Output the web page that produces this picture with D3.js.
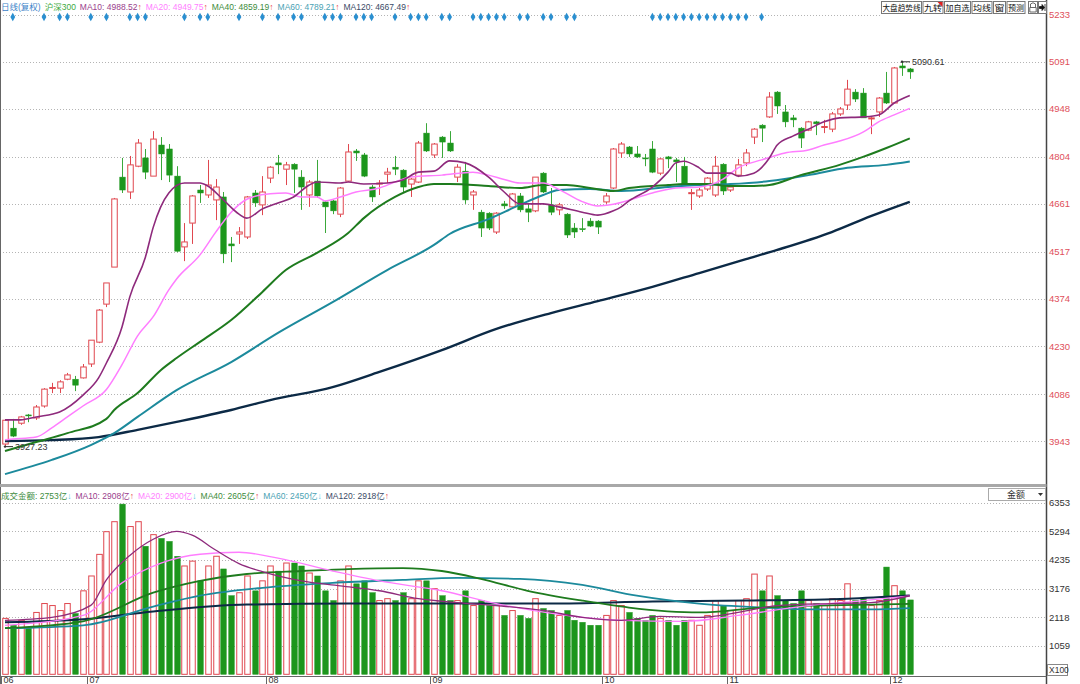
<!DOCTYPE html>
<html>
<head>
<meta charset="utf-8">
<script src="https://cdn.jsdelivr.net/npm/d3@7"></script>
<style>
  body { margin: 0; background: #fff; }
  svg { display: block; }
  text { font-family: "Liberation Sans", "Noto Sans CJK SC", sans-serif; }
  .cjk { font-family: "Noto Sans CJK SC", sans-serif; }
</style>
</head>
<body>
<div id="chart"></div>
<script>
// daily candles, index 0 = first visible day
const openP  = [3935,3983,3998,4023,4014,4050,4104,4104,4131,4131,4135,4177,4243,4358,4470,4742,4697,4775,4800,4745,
  4839,4827,4745,4531,4603,4703,4688,4673,4682,4540,4570,4561,4694,4658,4739,4785,4766,4781,4742,4688,
  4730,4667,4670,4630,4730,4821,4809,4712,4721,4751,4772,4763,4721,4727,4875,4809,4863,4845,4742,4760,
  4688,4636,4633,4576,4661,4652,4685,4646,4640,4754,4658,4643,4630,4588,4586,4609,4609,4667,4709,4815,
  4833,4812,4800,4827,4754,4803,4794,4775,4692,4685,4706,4688,4781,4703,4748,4785,4863,4899,4924,4999,
  4939,4921,4890,4884,4909,4892,4887,4933,4960,4999,4996,4918,4939,4996,4966,5078,5069];
const highP  = [4010,4011,4020,4026,4053,4104,4120,4128,4150,4141,4177,4249,4343,4422,4679,4800,4806,4857,4827,4881,
  4863,4842,4775,4603,4688,4718,4794,4736,4697,4561,4591,4685,4703,4745,4775,4809,4788,4784,4763,4733,
  4794,4670,4673,4712,4842,4827,4815,4718,4733,4770,4806,4766,4739,4851,4905,4845,4866,4881,4781,4788,
  4703,4643,4636,4636,4670,4694,4694,4664,4742,4757,4709,4664,4633,4603,4618,4618,4612,4694,4830,4848,
  4836,4836,4812,4851,4800,4806,4800,4803,4706,4709,4742,4806,4784,4718,4797,4827,4890,4902,4999,5002,
  4960,4930,4893,4912,4912,4915,4939,4954,5036,5008,5011,4924,4984,5060,5075,5090.61,5072];
const lowP   = [3927.23,3956,3993,4001,4008,4045,4089,4089,4128,4095,4133,4168,4240,4349,4470,4694,4676,4772,4736,4745,
  4733,4727,4515,4488,4540,4664,4679,4612,4482,4485,4540,4555,4652,4627,4724,4751,4718,4694,4643,4652,
  4679,4573,4630,4621,4727,4791,4742,4667,4688,4724,4748,4694,4682,4724,4818,4800,4800,4818,4727,4661,
  4643,4561,4582,4570,4646,4649,4636,4606,4636,4694,4627,4627,4558,4558,4576,4591,4570,4661,4706,4800,
  4803,4800,4775,4754,4748,4769,4727,4718,4643,4679,4700,4682,4688,4697,4742,4775,4842,4848,4921,4933,
  4893,4893,4830,4881,4869,4875,4878,4927,4945,4969,4921,4872,4924,4963,4966,5048,5039];
const closeP = [4007,3959,4017,4021,4047,4101,4106,4123,4144,4113,4168,4249,4340,4422,4676,4703,4779,4845,4757,4857,
  4812,4748,4518,4546,4685,4694,4718,4712,4510,4534,4576,4682,4664,4697,4772,4779,4779,4766,4712,4727,
  4685,4652,4640,4709,4818,4815,4745,4682,4724,4757,4766,4712,4736,4845,4821,4842,4848,4821,4772,4673,
  4697,4588,4588,4633,4655,4691,4643,4636,4742,4697,4636,4658,4567,4576,4583,4594,4591,4685,4827,4842,
  4812,4803,4797,4757,4797,4797,4788,4721,4695,4703,4739,4775,4700,4712,4779,4815,4887,4890,4984,4957,
  4909,4915,4860,4909,4903,4895,4933,4948,5008,4978,4921,4921,4981,4966,5072,5072,5060];

// turnover, 亿
const volume = [2070,1815,2000,1700,2290,2620,2545,2360,2620,2250,3090,3640,4440,5280,5650,6300,5470,5650,4740,5170,
  5030,4920,4370,4010,4190,3460,4010,4370,3900,2910,3020,3640,3090,3460,4010,3820,4120,4120,4010,3750,
  3640,3090,2730,3460,4010,3350,3460,3020,2730,2800,2730,3020,2800,3460,3460,3170,2910,2730,2730,3090,
  2545,2730,2545,2545,2180,2360,2180,2070,2800,2435,2360,2180,2360,2000,1925,1815,1815,2180,2730,2545,
  2290,2070,2000,2180,2070,2000,1815,2000,2000,1815,2180,2730,2545,2360,2730,2800,3710,3090,3640,2910,
  2730,2620,3090,2730,2620,2545,2800,2730,3350,2730,2800,2545,2730,3970,3280,3090,2753];

// moving averages: [day index, value]
const ma10 = [[0,4008],[2,4008],[4,4017],[7,4032],[10,4083],[12,4135],[13,4180],[15,4289],[16,4380],[18,4500],[19,4590],
  [21,4694],[23,4724],[25,4724],[26,4715],[28,4673],[30,4630],[31,4618],[33,4646],[35,4664],[37,4682],[39,4718],[40,4727],
  [43,4724],[44,4727],[46,4721],[49,4724],[51,4733],[53,4757],[55,4760],[57,4791],[59,4785],[62,4742],[64,4697],[66,4661],
  [69,4661],[71,4652],[74,4636],[76,4627],[78,4640],[79,4652],[80,4670],[83,4712],[85,4757],[86,4785],[87,4790],[89,4770],
  [90,4754],[93,4754],[94,4745],[96,4754],[98,4800],[99,4839],[101,4866],[103,4887],[105,4909],[107,4921],[110,4924],
  [112,4930],[114,4966],[116,4988.52]];
const ma20 = [[0,3948],[1,3950],[4,3956],[6,3984],[8,4017],[10,4050],[13,4100],[15,4175],[17,4262],[19,4320],[21,4401],
  [22,4434],[25,4507],[27,4575],[29,4636],[31,4675],[34,4692],[36,4694],[38,4682],[40,4682],[41,4670],[43,4682],[45,4697],
  [48,4709],[50,4727],[52,4742],[56,4748],[60,4757],[62,4748],[64,4735],[66,4724],[69,4724],[71,4705],[74,4668],[76,4655],
  [78,4660],[83,4694],[86,4709],[89,4712],[92,4735],[94,4770],[97,4794],[100,4815],[103,4824],[105,4839],[107,4851],
  [110,4878],[111,4893],[112,4909],[114,4930],[116,4949.75]];
const ma40 = [[0,3914],[4,3941],[8,3968],[13,4011],[14,4038],[17,4089],[20,4159],[22,4195],[25,4244],[29,4310],[33,4395],
  [36,4461],[40,4513],[44,4573],[46,4618],[50,4682],[53,4712],[55,4721],[57,4721],[62,4715],[66,4709],[69,4718],[72,4718],
  [75,4709],[78,4700],[80,4709],[85,4718],[87,4721],[90,4721],[93,4715],[96,4715],[98,4718],[102,4748],[107,4779],
  [110,4803],[113,4830],[116,4859.19]];
const ma60 = [[0,3844],[6,3887],[11,3932],[14,3968],[17,4017],[22,4098],[29,4183],[35,4271],[42,4364],[49,4461],[55,4537],
  [57,4570],[62,4615],[66,4658],[69,4688],[71,4703],[75,4706],[79,4700],[85,4712],[89,4718],[93,4721],[98,4730],[103,4748],
  [108,4770],[113,4779],[116,4789.21]];
const ma120 = [[0,3944],[6,3947],[12,3956],[17,3978],[22,4002],[29,4038],[34,4068],[42,4107],[48,4153],[56,4219],[63,4283],
  [70,4331],[76,4367],[83,4410],[89,4452],[95,4494],[99,4522],[106,4576],[111,4624],[116,4667.49]];

const vma10 = [[0,1998],[6,2107],[11,2550],[13,3500],[16,4400],[19,5000],[22,5290],[24,5150],[27,4600],[30,4100],[33,3800],
  [38,3458],[43,3276],[48,3093],[53,2801],[58,2655],[63,2545],[69,2363],[74,2107],[79,1998],[84,2144],[89,2107],[94,2290],
  [99,2545],[106,2618],[111,2655],[116,2908]];
const vma20 = [[0,1815],[10,2180],[15,3385],[20,4116],[25,4444],[30,4518],[35,4298],[42,3824],[48,3458],[56,3093],[63,2618],
  [71,2217],[79,1998],[87,1961],[94,2180],[102,2509],[110,2728],[116,2900]];
const vma40 = [[0,1706],[10,1961],[19,3020],[25,3458],[31,3714],[38,3824],[44,3897],[51,3933],[56,3824],[61,3532],[67,3093],
  [74,2728],[80,2472],[89,2290],[97,2472],[104,2545],[111,2582],[116,2605]];
const vma60 = [[0,1706],[10,1815],[19,2509],[25,2911],[33,3203],[42,3385],[51,3495],[58,3568],[66,3532],[74,3312],[81,2911],
  [89,2618],[97,2472],[104,2400],[111,2400],[116,2450]];
const vma120 = [[0,1925],[10,2034],[19,2326],[31,2582],[44,2618],[57,2618],[70,2618],[83,2691],[95,2728],[108,2801],[116,2918]];

const priceTicks = [5233,5091,4948,4804,4661,4517,4374,4230,4086,3943];
const volTicks = [6353,5294,4235,3176,2118,1059];
const months = [["06",0],["07",11],["08",34],["09",55],["10",77],["11",93],["12",114]];
const signalDays = [1,5,7,8,11,13,16,17,18,23,25,26,30,33,35,37,38,41,42,43,45,46,47,50,
  52,53,54,56,57,60,61,62,63,64,66,67,69,70,72,73,83,84,85,86,87,88,89,90,91,92,93,94,95,97];

const maKeys = ["ma10","ma20","ma40","ma60","ma120"];
const priceLegend = ["MA10: 4988.52","MA20: 4949.75","MA40: 4859.19","MA60: 4789.21","MA120: 4667.49"];
const priceLegendUp = [true,true,true,true,true];
const volLegend = ["MA10: 2908亿","MA20: 2900亿","MA40: 2605亿","MA60: 2450亿","MA120: 2918亿"];
const volLegendUp = [true,false,true,false,true];
const buttons = ["大盘趋势线","九转","加自选","均线","窗","预测"];

const W = 1080, H = 684;
const axisX = 1046.5;
const UP = "#e0474f", DOWN = "#1c961c";
const lineColors = { ma10: "#8e2a7c", ma20: "#ff7dff", ma40: "#1e7b1e", ma60: "#1c8a9c", ma120: "#0c2a46" };
const textColors = { ma10: "#9a3d8c", ma20: "#ff80ff", ma40: "#3c8c3c", ma60: "#4aa2b4", ma120: "#3a4a66" };
const ARROW_UP = "#e84a4a", ARROW_DN = "#45c0e0";

const svg = d3.select("#chart").append("svg").attr("width", W).attr("height", H);

const x = d3.scaleLinear().domain([0, 116]).range([5, 909.8]);
const y = d3.scaleLinear().domain([3943, 5233]).range([441.4, 14.7]);
const yv = d3.scaleLinear().domain([0, 6353]).range([674.3, 502.7]);

// grid
svg.append("g").selectAll("line").data(priceTicks).enter().append("line")
  .attr("x1", 0).attr("x2", d => d === 5233 ? 880 : axisX)
  .attr("y1", d => Math.round(y(d)) + 0.5).attr("y2", d => Math.round(y(d)) + 0.5)
  .attr("stroke", "#b4b4b4").attr("stroke-dasharray", "1,2");
svg.append("g").selectAll("line").data(volTicks).enter().append("line")
  .attr("x1", 0).attr("x2", axisX)
  .attr("y1", d => Math.round(yv(d)) + 0.5).attr("y2", d => Math.round(yv(d)) + 0.5)
  .attr("stroke", "#b4b4b4").attr("stroke-dasharray", "1,2");

// panel frame
svg.append("line").attr("x1", 0.5).attr("x2", 0.5).attr("y1", 0).attr("y2", H).attr("stroke", "#666");
svg.append("line").attr("x1", axisX).attr("x2", axisX).attr("y1", 0).attr("y2", H).attr("stroke", "#444").attr("stroke-width", 1.5);
svg.append("rect").attr("x", 0).attr("y", 484).attr("width", axisX).attr("height", 3).attr("fill", "#a8a8a8");
svg.append("line").attr("x1", 0).attr("x2", axisX).attr("y1", 676.5).attr("y2", 676.5).attr("stroke", "#666");

// candles
const days = d3.range(openP.length).map(i => ({ i, o: openP[i], h: highP[i], l: lowP[i], c: closeP[i], v: volume[i] }));
const bw = 5.5;
const cg = svg.append("g");
days.forEach(d => {
  const up = d.c >= d.o;
  const col = up ? UP : DOWN;
  const cx = Math.round(x(d.i)) + 0.5;
  const top = y(Math.max(d.o, d.c)), bot = y(Math.min(d.o, d.c));
  cg.append("line").attr("x1", cx).attr("x2", cx).attr("y1", y(d.h)).attr("y2", top)
    .attr("stroke", up ? UP : "#3aa83a").attr("stroke-width", 1);
  cg.append("line").attr("x1", cx).attr("x2", cx).attr("y1", bot).attr("y2", y(d.l))
    .attr("stroke", up ? UP : "#3aa83a").attr("stroke-width", 1);
  cg.append("rect").attr("x", cx - bw / 2).attr("y", top)
    .attr("width", bw).attr("height", Math.max(1, bot - top))
    .attr("fill", up ? "#fff" : col).attr("stroke", col).attr("stroke-width", up ? 1 : 0.5);
});

// volume bars
svg.append("g").selectAll("rect").data(days).enter().append("rect")
  .attr("x", d => Math.round(x(d.i)) + 0.5 - 2.75)
  .attr("y", d => yv(d.v))
  .attr("width", 5.5)
  .attr("height", d => yv(0) - yv(d.v))
  .attr("fill", d => d.c >= d.o ? "#fff" : DOWN)
  .attr("stroke", d => d.c >= d.o ? UP : DOWN)
  .attr("stroke-width", d => d.c >= d.o ? 1 : 0.5);

// MA lines
const priceLine = d3.line().x(d => x(d[0])).y(d => y(d[1])).curve(d3.curveMonotoneX);
const volLine = d3.line().x(d => x(d[0])).y(d => yv(d[1])).curve(d3.curveMonotoneX);
[[ma120, "ma120", 2.4], [ma60, "ma60", 2], [ma40, "ma40", 2], [ma20, "ma20", 1.5], [ma10, "ma10", 1.6]].forEach(([data, k, w]) => {
  svg.append("path").datum(data).attr("d", priceLine).attr("fill", "none")
    .attr("stroke", lineColors[k]).attr("stroke-width", w).attr("stroke-linejoin", "round");
});
[[vma120, "ma120", 2], [vma60, "ma60", 1.8], [vma40, "ma40", 1.8], [vma20, "ma20", 1.3], [vma10, "ma10", 1.3]].forEach(([data, k, w]) => {
  svg.append("path").datum(data).attr("d", volLine).attr("fill", "none")
    .attr("stroke", lineColors[k]).attr("stroke-width", w).attr("stroke-linejoin", "round");
});

// high / low markers
const hi = days[115], lo = days[0];
svg.append("line").attr("x1", x(hi.i)).attr("x2", x(hi.i) + 8).attr("y1", y(hi.h)).attr("y2", y(hi.h)).attr("stroke", "#333");
svg.append("circle").attr("cx", x(hi.i)).attr("cy", y(hi.h)).attr("r", 1.2).attr("fill", "#333");
svg.append("text").attr("x", x(hi.i) + 10).attr("y", y(hi.h) + 3).attr("font-size", 9).attr("fill", "#333").text(hi.h.toFixed(2));
svg.append("line").attr("x1", x(lo.i)).attr("x2", x(lo.i) + 8).attr("y1", y(lo.l)).attr("y2", y(lo.l)).attr("stroke", "#333");
svg.append("circle").attr("cx", x(lo.i)).attr("cy", y(lo.l)).attr("r", 1.2).attr("fill", "#333");
svg.append("text").attr("x", x(lo.i) + 10).attr("y", y(lo.l) + 3).attr("font-size", 9).attr("fill", "#333").text(lo.l.toFixed(2));

// signal diamonds
svg.append("g").selectAll("path").data(signalDays).enter().append("path")
  .attr("d", d3.symbol().type(d3.symbolDiamond).size(20))
  .attr("transform", d => `translate(${x(d)},17)`)
  .attr("fill", "#2a8fd0");

// right axis labels
svg.append("g").selectAll("text").data(priceTicks).enter().append("text")
  .attr("x", 1049).attr("y", d => y(d) + 3.5).attr("font-size", 9.5).attr("fill", "#e0505a").text(d => d);
svg.append("g").selectAll("text").data(volTicks).enter().append("text")
  .attr("x", 1049).attr("y", d => yv(d) + 3.5).attr("font-size", 9.5).attr("fill", "#333").text(d => d);
svg.append("rect").attr("x", 1047.5).attr("y", 664.5).attr("width", 20).attr("height", 11).attr("fill", "#fff").attr("stroke", "#888");
svg.append("text").attr("x", 1049).attr("y", 673).attr("font-size", 8.5).attr("fill", "#333").text("X100");

// month axis
const mg = svg.append("g");
months.forEach(([lab, i]) => {
  const mx = Math.round(x(i) - 3.9) + 0.5;
  mg.append("line").attr("x1", mx).attr("x2", mx).attr("y1", 676).attr("y2", 684).attr("stroke", "#666");
  mg.append("text").attr("x", mx + 2).attr("y", 683).attr("font-size", 9).attr("fill", "#333").text(lab);
});

// legend rows laid out left to right
function legendRow(yPos, items) {
  let cx = 1;
  items.forEach(it => {
    const t = svg.append("text").attr("x", cx).attr("y", yPos).attr("font-size", 8.5);
    t.append("tspan").attr("fill", it.c).text(it.t);
    if (it.arrow) t.append("tspan").attr("fill", it.ac).text(it.arrow);
    cx += t.node().getComputedTextLength() + (it.gap || 4);
  });
}
legendRow(10, [
  { t: "日线(复权)", c: "#3c82c8", gap: 4 },
  { t: "沪深300", c: "#3caa3c", gap: 4 }
].concat(priceLegend.map((t, i) => ({ t, c: textColors[maKeys[i]], arrow: "↑", ac: priceLegendUp[i] ? ARROW_UP : ARROW_DN }))));
legendRow(499, [
  { t: "成交金额: 2753亿", c: "#3c8c3c", arrow: "↓", ac: ARROW_DN }
].concat(volLegend.map((t, i) => ({ t, c: textColors[maKeys[i]], arrow: volLegendUp[i] ? "↑" : "↓", ac: volLegendUp[i] ? ARROW_UP : ARROW_DN }))));

// toolbar buttons
const bg = svg.append("g");
const btnW = [40, 20, 26, 20, 12, 18];
let bx = 881;
buttons.forEach((lab, i) => {
  const w = btnW[i];
  bg.append("rect").attr("x", bx + 0.5).attr("y", 1.5).attr("width", w).attr("height", 12)
    .attr("fill", "#fff").attr("stroke", "#777");
  bg.append("text").attr("class", "cjk").attr("x", bx + 1.5).attr("y", 11)
    .attr("font-size", 8.5).attr("fill", "#111")
    .attr("textLength", w - 2).attr("lengthAdjust", "spacingAndGlyphs").text(lab);
  if (lab === "九转") bg.append("path").attr("d", `M${bx + w - 5},2 L${bx + w},2 L${bx + w},7 Z`).attr("fill", "#e02020");
  bx += w + 1.5;
});
bg.append("rect").attr("x", 1028.5).attr("y", 1.5).attr("width", 9).attr("height", 12).attr("fill", "#fff").attr("stroke", "#777");
bg.append("path").attr("d", "M1030.5,7 L1030.5,4 Q1033,1.5 1035.5,4 L1035.5,7 M1029.8,7.5 H1036.2 V12 H1029.8 Z")
  .attr("fill", "none").attr("stroke", "#444").attr("stroke-width", 0.8);
bg.append("rect").attr("x", 1038.5).attr("y", 1.5).attr("width", 8).attr("height", 12).attr("fill", "#fff").attr("stroke", "#777");
bg.append("path").attr("d", "M1039.5,6.5 H1042 V4.5 L1044.5,7.5 L1042,10.5 V8.5 H1039.5 Z M1045,4 V11").attr("fill", "#111").attr("stroke", "#111").attr("stroke-width", 0.8);

// amount selector
svg.append("rect").attr("x", 988.5).attr("y", 488.5).attr("width", 57).attr("height", 12).attr("fill", "#fff").attr("stroke", "#aaa");
svg.append("text").attr("class", "cjk").attr("x", 1016).attr("y", 498).attr("text-anchor", "middle")
  .attr("font-size", 9).attr("fill", "#333").text("金额");
svg.append("path").attr("d", "M1038,493 L1043,493 L1040.5,496 Z").attr("fill", "#333");
</script>
</body>
</html>
